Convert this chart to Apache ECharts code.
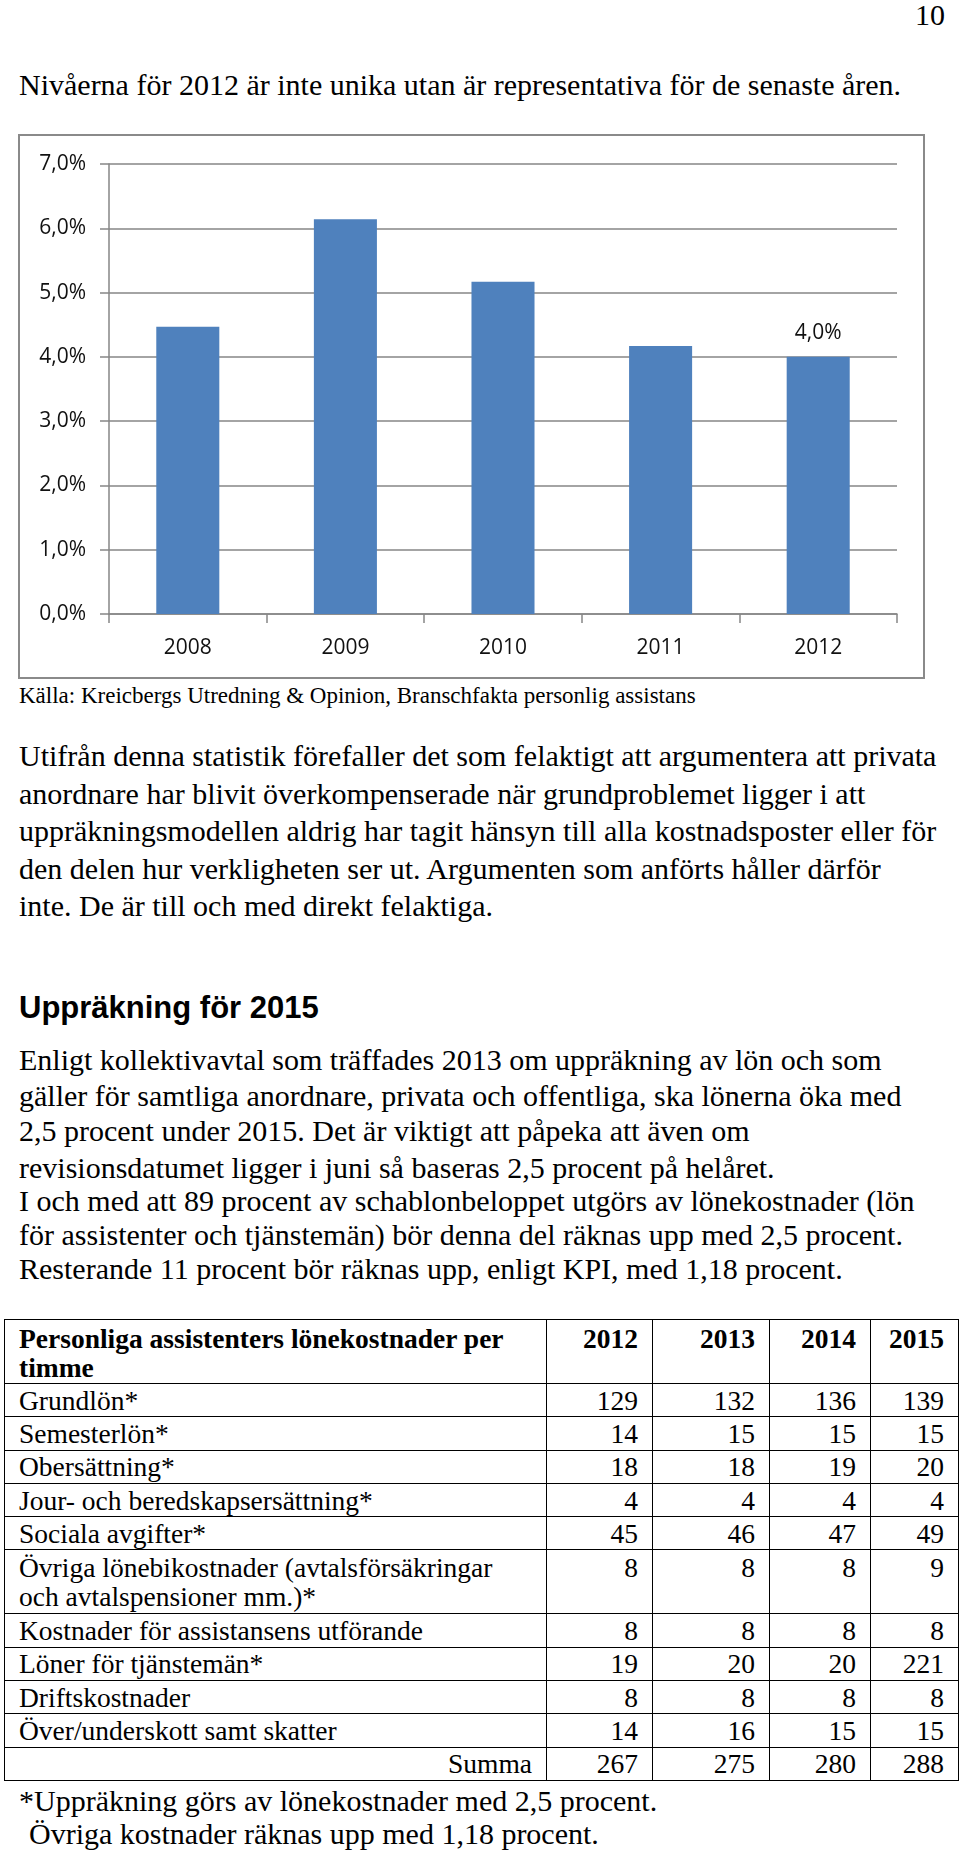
<!DOCTYPE html>
<html><head><meta charset="utf-8">
<script src="https://cdn.jsdelivr.net/npm/echarts@6/dist/echarts.min.js"></script>
<style>
html,body{margin:0;padding:0;background:#fff;}
body{width:960px;height:1852px;position:relative;overflow:hidden;font-family:"Liberation Serif","Times New Roman",serif;color:#000;}
.ln{position:absolute;white-space:nowrap;}
#frame{position:absolute;left:18px;top:134px;width:907px;height:545px;border:2px solid #8a8a8a;box-sizing:border-box;}
#chart{width:903px;height:541px;}
#tbl{position:absolute;left:4px;top:1319px;border-collapse:collapse;font-size:27.5px;table-layout:fixed;}
#tbl td{border:1.5px solid #000;padding:0;line-height:29px;white-space:pre-line;}
#tbl td.lab{padding-left:14px;text-align:left;}
#tbl td.num{padding-right:14px;text-align:right;}
#tbl tr.hd td{font-weight:bold;vertical-align:top;padding-top:4px;}
#tbl tr.two td{vertical-align:top;padding-top:3px;}
</style></head>
<body>
<div id="frame"><div id="chart"></div></div>
<table id="tbl"></table>
<script>
// ---------- chart data ----------
const years = ['2008', '2009', '2010', '2011', '2012'];
const increase = [4.47, 6.14, 5.17, 4.17, 4.0];
const yMin = 0, yMax = 7, yStep = 1;

// ---------- table data ----------
const tableTitle = 'Personliga assistenters lönekostnader per\ntimme';
const tableYears = ['2012', '2013', '2014', '2015'];
const rowLabels = ['Grundlön*', 'Semesterlön*', 'Obersättning*', 'Jour- och beredskapsersättning*',
  'Sociala avgifter*', 'Övriga lönebikostnader (avtalsförsäkringar\noch avtalspensioner mm.)*',
  'Kostnader för assistansens utförande', 'Löner för tjänstemän*', 'Driftskostnader',
  'Över/underskott samt skatter'];
const v2012 = [129, 14, 18, 4, 45, 8, 8, 19, 8, 14];
const v2013 = [132, 15, 18, 4, 46, 8, 8, 20, 8, 16];
const v2014 = [136, 15, 19, 4, 47, 8, 8, 20, 8, 15];
const v2015 = [139, 15, 20, 4, 49, 9, 8, 221, 8, 15];
const sumLabel = 'Summa';
const sums = [267, 275, 280, 288];

// ---------- text ----------
const pageNo = '10';
const intro = 'Nivåerna för 2012 är inte unika utan är representativa för de senaste åren.';
const source = 'Källa: Kreicbergs Utredning & Opinion, Branschfakta personlig assistans';
const para1 = [
  'Utifrån denna statistik förefaller det som felaktigt att argumentera att privata',
  'anordnare har blivit överkompenserade när grundproblemet ligger i att',
  'uppräkningsmodellen aldrig har tagit hänsyn till alla kostnadsposter eller för',
  'den delen hur verkligheten ser ut. Argumenten som anförts håller därför',
  'inte. De är till och med direkt felaktiga.'];
const heading = 'Uppräkning för 2015';
const para2 = [
  'Enligt kollektivavtal som träffades 2013 om uppräkning av lön och som',
  'gäller för samtliga anordnare, privata och offentliga, ska lönerna öka med',
  '2,5 procent under 2015. Det är viktigt att påpeka att även om',
  'revisionsdatumet ligger i juni så baseras 2,5 procent på helåret.',
  'I och med att 89 procent av schablonbeloppet utgörs av lönekostnader (lön',
  'för assistenter och tjänstemän) bör denna del räknas upp med 2,5 procent.',
  'Resterande 11 procent bör räknas upp, enligt KPI, med 1,18 procent.'];
const notes = ['*Uppräkning görs av lönekostnader med 2,5 procent.',
  'Övriga kostnader räknas upp med 1,18 procent.'];

function line(text, left, cy, size, opts) {
  opts = opts || {};
  const d = document.createElement('div');
  d.className = 'ln';
  d.textContent = text;
  d.style.left = left + 'px';
  d.style.top = (cy - size / 2) + 'px';
  d.style.fontSize = size + 'px';
  d.style.lineHeight = size + 'px';
  if (opts.family) d.style.fontFamily = opts.family;
  if (opts.bold) d.style.fontWeight = 'bold';
  document.body.appendChild(d);
  return d;
}

line(pageNo, 915, 15, 30);
line(intro, 19, 85, 30);
line(source, 19, 695, 23);
const p1y = [756, 793.5, 831, 869, 906];
para1.forEach((t, i) => line(t, 19, p1y[i], 30));
line(heading, 19, 1007, 31, {family: '"Liberation Sans", Arial, sans-serif', bold: true});
const p2y = [1060, 1096, 1131, 1168, 1201, 1235, 1269];
para2.forEach((t, i) => line(t, 19, p2y[i], 30));
line(notes[0], 19, 1801, 30);
line(notes[1], 29, 1834, 30);

// ---------- table ----------
const tbl = document.getElementById('tbl');
const colW = [542, 106, 117, 101, 88];
const cg = document.createElement('colgroup');
colW.forEach(w => { const c = document.createElement('col'); c.style.width = w + 'px'; cg.appendChild(c); });
tbl.appendChild(cg);
function addRow(cells, cls, h) {
  const tr = document.createElement('tr');
  if (cls) tr.className = cls;
  tr.style.height = h + 'px';
  cells.forEach((c, j) => {
    const td = document.createElement('td');
    td.textContent = c.text;
    td.className = c.cls;
    tr.appendChild(td);
  });
  tbl.appendChild(tr);
}
addRow([{text: tableTitle, cls: 'lab'}].concat(tableYears.map(y => ({text: y, cls: 'num'}))), 'hd', 64);
const cols = [v2012, v2013, v2014, v2015];
rowLabels.forEach((lab, i) => {
  const two = lab.indexOf('\n') >= 0;
  addRow([{text: lab, cls: 'lab'}].concat(cols.map(c => ({text: String(c[i]), cls: 'num'}))), two ? 'two' : '', two ? 64 : 33.3);
});
addRow([{text: sumLabel, cls: 'num'}].concat(sums.map(s => ({text: String(s), cls: 'num'}))), '', 33.3);

// ---------- chart ----------
const chart = echarts.init(document.getElementById('chart'), null, {renderer: 'canvas'});
const fmt = v => v.toFixed(1).replace('.', ',') + '%';
const axisGray = '#868686';
const labelFont = {color: '#111111', fontSize: 21, fontFamily: '"Open Sans", "Noto Sans", sans-serif'};
chart.setOption({
  animation: false,
  grid: {left: 89, top: 28, width: 788, height: 450, containLabel: false},
  xAxis: {
    type: 'category', data: years,
    axisLine: {lineStyle: {color: axisGray, width: 1.5}},
    axisTick: {show: true, length: 9, lineStyle: {color: axisGray, width: 1.5}},
    axisLabel: Object.assign({margin: 24}, labelFont)
  },
  yAxis: {
    type: 'value', min: yMin, max: yMax, interval: yStep,
    axisLine: {show: true, lineStyle: {color: axisGray, width: 1.5}},
    axisTick: {show: true, length: 9, lineStyle: {color: axisGray, width: 1.5}},
    splitLine: {show: true, lineStyle: {color: axisGray, width: 1.5}},
    axisLabel: Object.assign({margin: 23, formatter: fmt}, labelFont)
  },
  series: [{
    type: 'bar', barWidth: '40%',
    itemStyle: {color: '#4f81bd'},
    data: increase.map((v, i) => ({value: v, label: {show: i === increase.length - 1}})),
    label: Object.assign({position: 'top', distance: 13, formatter: p => fmt(p.value)}, labelFont)
  }]
});
</script>
</body></html>
